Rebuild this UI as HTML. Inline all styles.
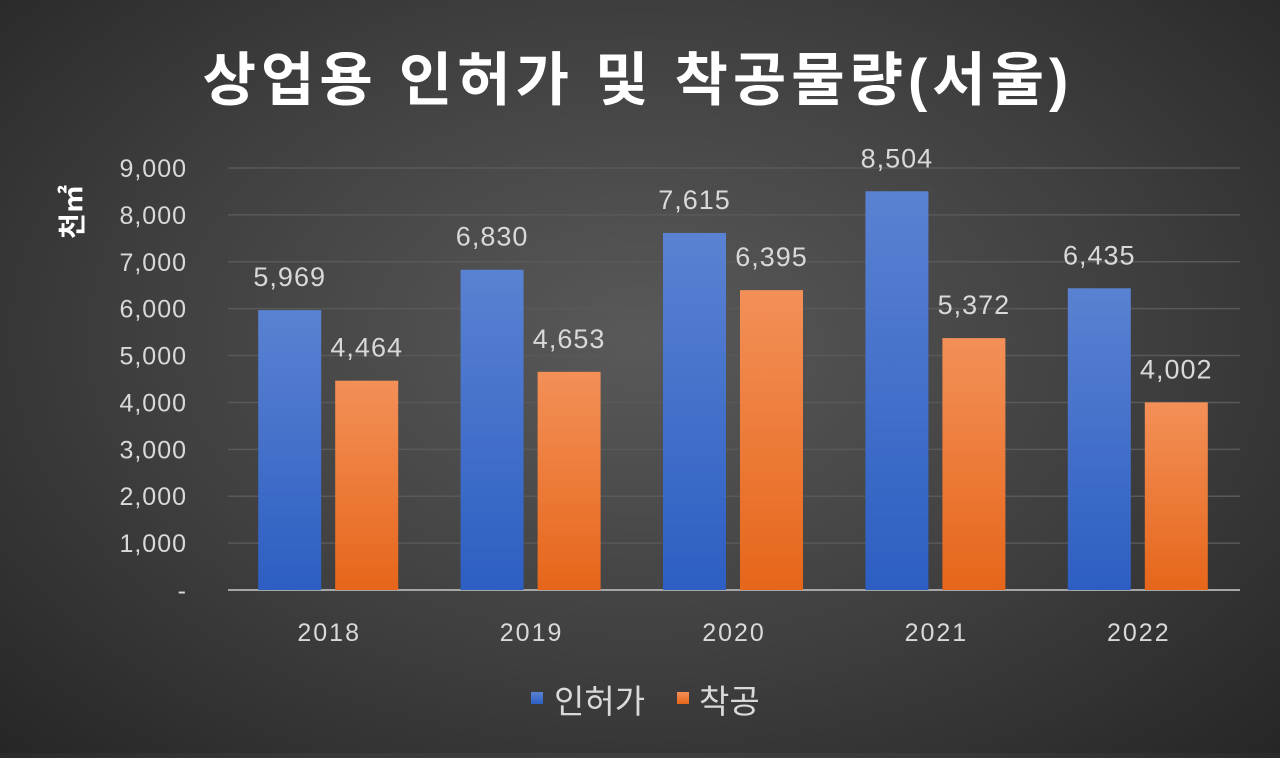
<!DOCTYPE html>
<html><head><meta charset="utf-8"><style>
html,body{margin:0;padding:0}
body{width:1280px;height:753px;overflow:hidden;background:radial-gradient(ellipse at 50% 45%,#595959 0%,#3f3f3f 55%,#262626 100%);font-family:"Liberation Sans","Noto Sans CJK KR",sans-serif}
</style></head><body>
<svg id="c" width="1280" height="753" xmlns="http://www.w3.org/2000/svg">
<defs>
<linearGradient id="gb" x1="0" y1="0" x2="0" y2="1"><stop offset="0" stop-color="#5a82d2"/><stop offset="1" stop-color="#2d5ec2"/></linearGradient>
<linearGradient id="go" x1="0" y1="0" x2="0" y2="1"><stop offset="0" stop-color="#f39058"/><stop offset="1" stop-color="#e6661a"/></linearGradient>
</defs>
<text x="638" y="100" text-anchor="middle" fill="#fff" font-size="58" font-weight="bold" letter-spacing="5" font-family="'Liberation Sans','Noto Sans CJK KR',sans-serif">상업용 인허가 및 착공물량(서울)</text>
<text transform="translate(82,212) rotate(-90)" text-anchor="middle" fill="#fff" font-size="28" font-weight="bold" font-family="'Liberation Sans','Noto Sans CJK KR',sans-serif">천㎡</text>
<g id="grid"></g><g id="bars"></g><g id="labels"></g>
<g>
<rect x="531" y="692" width="12" height="12" fill="url(#gb)"/>
<text x="554" y="713" fill="#d9d9d9" font-size="33" font-family="'Liberation Sans','Noto Sans CJK KR',sans-serif">인허가</text>
<rect x="677" y="692" width="12" height="12" fill="url(#go)"/>
<text x="699" y="713" fill="#d9d9d9" font-size="33" font-family="'Liberation Sans','Noto Sans CJK KR',sans-serif">착공</text>
</g>
</svg>
<script>
const categories=["2018","2019","2020","2021","2022"];
const permitValues=[5969,6830,7615,8504,6435];
const startValues=[4464,4653,6395,5372,4002];
const yTicks=[0,1000,2000,3000,4000,5000,6000,7000,8000,9000];
const NS="http://www.w3.org/2000/svg";
const x0=228,x1=1240,y0=590,y9=168,yMax=9000;
const y=v=>y0-(v/yMax)*(y0-y9);
const bw=(x1-x0)/categories.length;
const xc=i=>x0+bw*(i+0.5);
function mk(t,a,p){const e=document.createElementNS(NS,t);for(const k in a)e.setAttribute(k,a[k]);p.appendChild(e);return e;}
const grid=document.getElementById('grid'),bars=document.getElementById('bars'),labels=document.getElementById('labels');
yTicks.forEach(v=>{
  const l=mk('line',{x1:x0,x2:x1,y1:y(v),y2:y(v),stroke:v===0?'#a6a6a6':'#595959','stroke-width':v===0?2:1.5},grid);
  
  
  const t=mk('text',{x:187,y:y(v)+9,'text-anchor':'end',fill:'#d9d9d9','font-size':25,'letter-spacing':1},labels);
  t.textContent=v===0?'-':v.toLocaleString('en-US');
  
  
});
categories.forEach((c,i)=>{
  const cx=xc(i);
  [[permitValues[i],cx-71,'url(#gb)','bar-permit-'],[startValues[i],cx+6,'url(#go)','bar-start-']].forEach(([v,bx,f,n])=>{
    const r=mk('rect',{x:bx,y:y(v),width:63,height:y0-y(v),fill:f},bars);
    
    
    const t=mk('text',{x:bx+31.5,y:y(v)-24,'text-anchor':'middle',fill:'#d9d9d9','font-size':27,'letter-spacing':1},labels);
    t.textContent=v.toLocaleString('en-US');
    
    
  });
  const t=mk('text',{x:cx,y:641,'text-anchor':'middle',fill:'#d9d9d9','font-size':25,'letter-spacing':2},labels);
  t.textContent=c;
  
  
});
</script>
</body></html>
